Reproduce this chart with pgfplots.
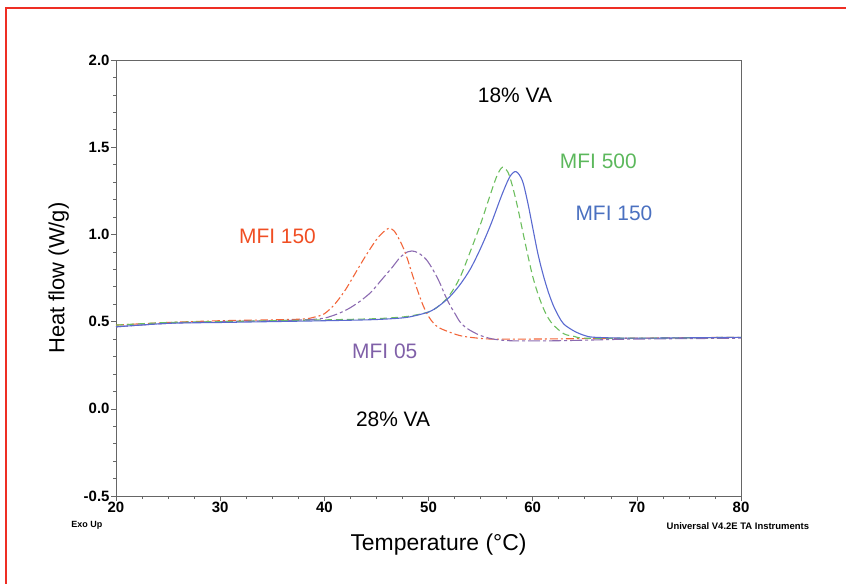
\documentclass[border=0pt]{standalone}
\usepackage{pgfplots}
\pgfplotsset{compat=1.18}
\usepackage{fontspec}
\setmainfont{Liberation Sans}
\definecolor{cred}{HTML}{F2663A}
\definecolor{cpurple}{HTML}{8C6BB1}
\definecolor{cgreen}{HTML}{6CBE5E}
\definecolor{cblue}{HTML}{5A6AD0}
\definecolor{tred}{HTML}{F04E23}
\definecolor{tgreen}{HTML}{5CB85C}
\definecolor{tblue}{HTML}{4A70C0}
\definecolor{tpurple}{HTML}{8060A8}
\definecolor{frame}{HTML}{EE2E24}
\begin{document}
\begin{tikzpicture}[x=1bp,y=1bp]
\path[use as bounding box] (0,0) rectangle (846,-584);
\draw[frame, line width=1.5bp] (6,-584) -- (6,-8) -- (846,-8);
\begin{axis}[
  at={(116bp,-496bp)}, anchor=south west,
  width=625bp, height=436bp, scale only axis,
  xmin=20, xmax=80, ymin=-0.5, ymax=2.0,
  xtick={20,30,...,80}, ytick={-0.5,0,0.5,1.0,1.5,2.0},
  minor x tick num=3, minor y tick num=4,
  tick align=outside, xtick pos=bottom, ytick pos=left,
  major tick length=5bp, minor tick length=3bp,
  axis line style={gray!80!black, line width=0.8bp},
  every tick/.style={gray!80!black, line width=0.6bp},
  /pgf/number format/assume math mode=true,
  tick label style={font=\fontsize{15}{17}\selectfont\bfseries},
  yticklabel style={/pgf/number format/fixed, /pgf/number format/fixed zerofill, /pgf/number format/precision=1, xshift=2bp},
  xticklabel style={yshift=2bp},
  xlabel={Temperature (°C)},
  ylabel={Heat flow (W/g)},
  xlabel style={font=\fontsize{23}{27}\selectfont, yshift=-14bp, xshift=10bp},
  ylabel style={font=\fontsize{22}{26}\selectfont, yshift=8bp},
  clip=false,
]
% red: MFI 150, 28% VA
\addplot[smooth, tension=0.5, cred, line width=1.1bp, dash pattern=on 8bp off 3bp on 2bp off 3bp] coordinates {
(20,0.48) (25,0.495) (30,0.505) (35,0.51) (38,0.515) (39,0.525) (40,0.545) (41,0.60) (42,0.68) (43,0.78) (44,0.88) (45,0.97) (45.6,1.01) (46.2,1.035) (46.7,1.02) (47.2,0.97) (47.6,0.92) (48,0.855) (48.5,0.76) (49,0.67) (49.5,0.59) (50,0.53) (50.5,0.49) (51,0.465) (52,0.44) (53,0.42) (54,0.41) (56,0.40) (60,0.40) (70,0.405) (80,0.41)};
% purple: MFI 05, 28% VA
\addplot[smooth, tension=0.5, cpurple, line width=1.1bp, dash pattern=on 12bp off 3bp on 3bp off 3bp] coordinates {
(20,0.47) (25,0.49) (30,0.50) (35,0.505) (38,0.51) (40,0.52) (41.5,0.55) (42.5,0.58) (43.5,0.62) (44.5,0.67) (45.5,0.74) (46.5,0.81) (47.3,0.87) (48,0.90) (48.4,0.905) (49,0.895) (49.8,0.855) (50.5,0.79) (51.1,0.72) (51.6,0.65) (52.1,0.59) (52.6,0.54) (53,0.50) (53.6,0.465) (54.3,0.44) (55,0.42) (56.2,0.40) (58,0.39) (62,0.39) (66,0.395) (70,0.40) (80,0.405)};
% green: MFI 500, 18% VA
\addplot[smooth, tension=0.5, cgreen, line width=1.1bp, dash pattern=on 7bp off 4bp] coordinates {
(20,0.48) (25,0.495) (30,0.50) (35,0.505) (40,0.51) (44,0.515) (46,0.52) (48,0.53) (50,0.555) (51,0.59) (52,0.65) (53,0.75) (54,0.90) (55,1.06) (56,1.24) (56.6,1.34) (57.1,1.385) (57.6,1.36) (58,1.29) (58.5,1.17) (59,1.03) (59.5,0.89) (60,0.76) (60.5,0.66) (61,0.58) (61.5,0.52) (62,0.48) (63,0.43) (64,0.415) (65,0.405) (70,0.405) (80,0.41)};
% blue: MFI 150, 18% VA
\addplot[smooth, tension=0.5, cblue, line width=1.1bp] coordinates {
(20,0.47) (25,0.49) (30,0.495) (35,0.50) (40,0.505) (44,0.51) (46,0.515) (48,0.525) (50,0.555) (51,0.59) (52,0.64) (53,0.71) (54,0.80) (55,0.92) (56,1.06) (57,1.22) (57.8,1.33) (58.4,1.36) (59,1.31) (59.5,1.19) (60,1.04) (60.5,0.89) (61,0.77) (61.5,0.67) (62,0.59) (62.5,0.53) (63,0.485) (64,0.445) (65,0.42) (66,0.41) (70,0.405) (80,0.41)};
\node[font=\fontsize{21}{24}\selectfont] at (axis cs:58.3,1.80) {18\% VA};
\node[font=\fontsize{21}{24}\selectfont, text=tgreen] at (axis cs:66.3,1.42) {MFI 500};
\node[font=\fontsize{21}{24}\selectfont, text=tblue] at (axis cs:67.8,1.12) {MFI 150};
\node[font=\fontsize{21}{24}\selectfont, text=tred] at (axis cs:35.5,0.99) {MFI 150};
\node[font=\fontsize{21}{24}\selectfont, text=tpurple] at (axis cs:45.8,0.33) {MFI 05};
\node[font=\fontsize{21}{24}\selectfont] at (axis cs:46.6,-0.06) {28\% VA};
\node[font=\fontsize{9}{11}\selectfont\bfseries] at (axis cs:17.2,-0.67) {Exo Up};
\node[font=\fontsize{9.5}{11}\selectfont\bfseries] at (axis cs:79.7,-0.67) {Universal V4.2E TA Instruments};
\end{axis}
\end{tikzpicture}
\end{document}
